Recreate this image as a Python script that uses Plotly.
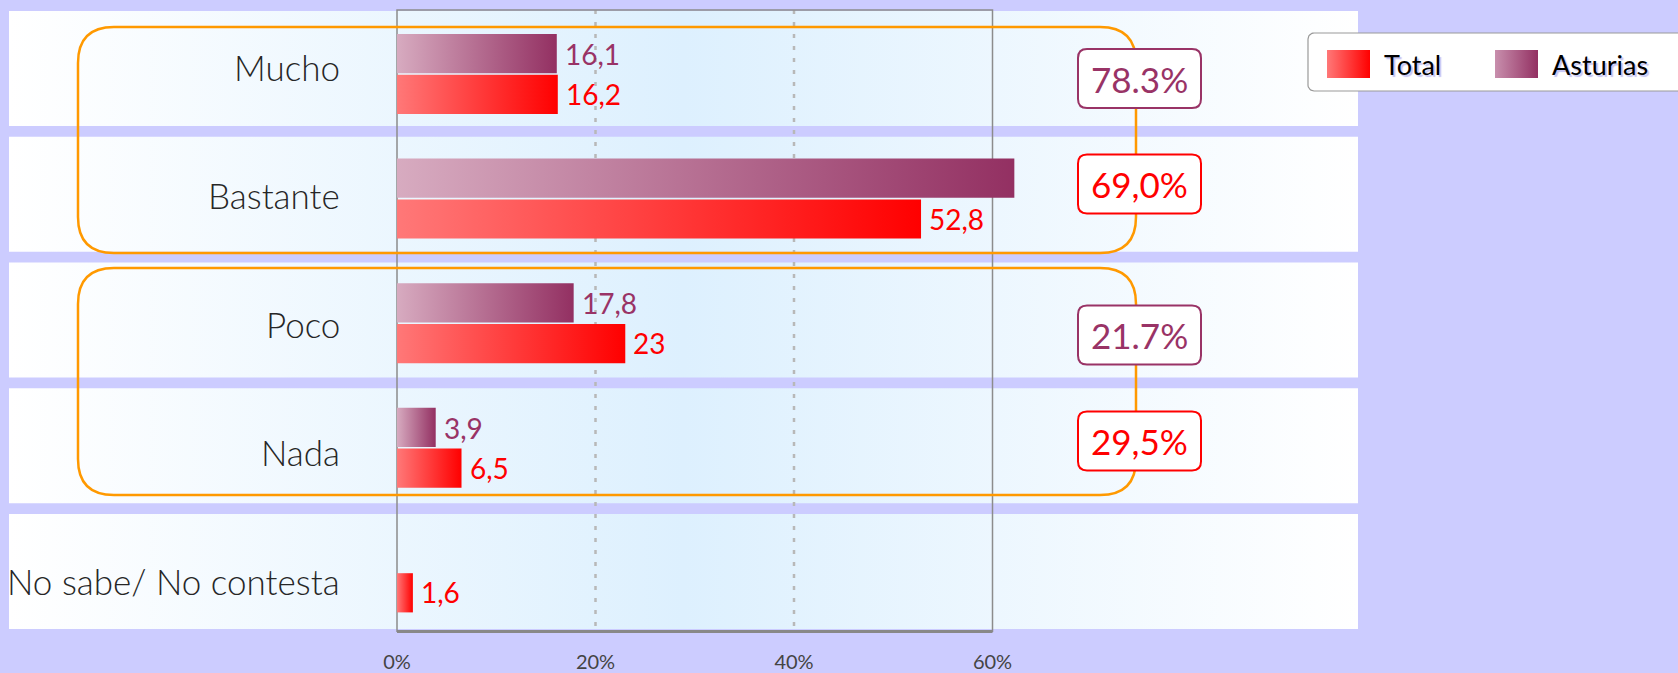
import plotly.graph_objects as go
import numpy as np

# ---------------- data ----------------
categories = ["Mucho", "Bastante", "Poco", "Nada", "No sabe/ No contesta"]
total = [16.2, 52.8, 23.0, 6.5, 1.6]
asturias = [16.1, 62.2, 17.8, 3.9, 0.0]
total_labels = ["16,2", "52,8", "23", "6,5", "1,6"]
asturias_labels = ["16,1", "62,2", "17,8", "3,9", ""]
x_tickvals = [0, 20, 40, 60]
x_ticktext = ["0%", "20%", "40%", "60%"]
groups = [["Mucho", "Bastante"], ["Poco", "Nada"]]
group_asturias = ["78.3%", "21.7%"]
group_total = ["69,0%", "29,5%"]
series_names = ["Total", "Asturias"]

# ---------------- styling / geometry ----------------
W, H = 1678, 673
PX0, KX = 397.0, 9.925      # pixel of x=0, pixels per %
PY0, KY = 74.0, 124.6       # pixel of first category centre, pixels per category
TOP, BOTTOM = 9, 634
XMAX_SHOW = 60

def X(px):
    return (px - PX0) / KX

def Y(py):
    return (py - PY0) / KY

FONT = "Lato, 'Open Sans', sans-serif"
RED_SCALE = [[0, "#ff7878"], [1, "#ff0000"]]
PUR_SCALE = [[0, "#d7abc0"], [1, "#933062"]]
LEG_PUR_SCALE = [[0, "#c88fad"], [1, "#933062"]]
PURPLE = "#993366"
RED = "#ff0000"
ORANGE = "#ff9900"

fig = go.Figure()


def rr_points(x0, y0, x1, y1, r, n=10):
    """rounded rectangle outline in pixel coords -> data coords"""
    pts = []
    corners = [(x1 - r, y0 + r, -90, 0), (x1 - r, y1 - r, 0, 90),
               (x0 + r, y1 - r, 90, 180), (x0 + r, y0 + r, 180, 270)]
    for cx, cy, a0, a1 in corners:
        for a in np.linspace(np.radians(a0), np.radians(a1), n):
            pts.append((cx + r * np.cos(a), cy + r * np.sin(a)))
    pts.append(pts[0])
    xs = [X(p[0]) for p in pts]
    ys = [Y(p[1]) for p in pts]
    return xs, ys


def rr_path(x0, y0, x1, y1, r):
    def P(px, py):
        return f"{X(px):.4f},{Y(py):.4f}"
    return (f"M{P(x0 + r, y0)} L{P(x1 - r, y0)} Q{P(x1, y0)} {P(x1, y0 + r)} "
            f"L{P(x1, y1 - r)} Q{P(x1, y1)} {P(x1 - r, y1)} L{P(x0 + r, y1)} "
            f"Q{P(x0, y1)} {P(x0, y1 - r)} L{P(x0, y0 + r)} Q{P(x0, y0)} {P(x0 + r, y0)} Z")


# ---- background bands (one per category) ----
band_x0, band_x1 = X(9), X(1358)
for i, cat in enumerate(categories):
    cy = 68.5 + 125.75 * i
    y0, y1 = Y(cy - 57.5), Y(cy + 57.5)
    fig.add_trace(go.Scatter(
        x=[band_x0, band_x1, band_x1, band_x0, band_x0],
        y=[y0, y0, y1, y1, y0], mode="lines", fill="toself",
        line=dict(width=0, color="rgba(0,0,0,0)"),
        fillgradient=dict(type="horizontal", start=band_x0, stop=band_x1,
                          colorscale=[[0, "#ffffff"], [0.5, "#ddf0fe"], [1, "#ffffff"]]),
        hoverinfo="skip", showlegend=False))

# ---- dotted grid lines ----
for v in x_tickvals[1:-1]:
    fig.add_trace(go.Scatter(x=[v, v], y=[Y(10), Y(632)], mode="lines",
                             line=dict(color="#b8b8b8", width=2.5, dash="4px,8px"),
                             hoverinfo="skip", showlegend=False))

# ---- plot frame ----
fig.add_trace(go.Scatter(x=[x_tickvals[0], x_tickvals[0], x_tickvals[-1], x_tickvals[-1]],
                         y=[Y(632), Y(10), Y(10), Y(632)], mode="lines",
                         line=dict(color="#8c8c8c", width=1.5),
                         hoverinfo="skip", showlegend=False))
fig.add_trace(go.Scatter(x=[x_tickvals[0], x_tickvals[-1]], y=[Y(631.5), Y(631.5)], mode="lines",
                         line=dict(color="#888888", width=3),
                         hoverinfo="skip", showlegend=False))

# ---- bars (gradient filled) ----
BW = 40.0 / KY
GAP = 0.8 / KY
for i, cat in enumerate(categories):
    for vals, sign, scale in ((asturias, -1, PUR_SCALE), (total, 1, RED_SCALE)):
        v = vals[i]
        if v <= 0:
            continue
        ya, yb = i + sign * GAP, i + sign * BW
        fig.add_trace(go.Scatter(
            x=[0, v, v, 0, 0], y=[ya, ya, yb, yb, ya], mode="lines", fill="toself",
            line=dict(width=0, color="rgba(0,0,0,0)"),
            fillgradient=dict(type="horizontal", start=0, stop=v, colorscale=scale),
            hoverinfo="skip", showlegend=False))

annotations = []
# value labels
for i, cat in enumerate(categories):
    for vals, labs, sign, col in ((asturias, asturias_labels, -1, PURPLE), (total, total_labels, 1, RED)):
        v = vals[i]
        if v <= 0 or v >= XMAX_SHOW:
            continue
        annotations.append(dict(x=v, y=i + sign * BW / 2, text=labs[i], showarrow=False,
                                xanchor="left", yanchor="middle", xshift=6,
                                font=dict(family=FONT, size=28, color=col)))

# category labels
for i, cat in enumerate(categories):
    annotations.append(dict(x=X(342), y=Y(67 + 128.4 * i), text=cat, showarrow=False,
                            xanchor="right", yanchor="middle",
                            font=dict(family=FONT, size=35, color="#262626", weight=300)))

shapes = []
# orange group outlines
grp_bounds = [(27, 253), (268, 495)]
for (t, b) in grp_bounds:
    shapes.append(dict(type="path", path=rr_path(78, t, 1136, b, 36), xref="x", yref="y",
                       line=dict(color=ORANGE, width=2.5), fillcolor="rgba(0,0,0,0)", layer="above"))

# percentage boxes
box_centers = [(78.5, group_asturias[0], PURPLE), (184, group_total[0], RED),
               (335, group_asturias[1], PURPLE), (441, group_total[1], RED)]
for cy, txt, col in box_centers:
    shapes.append(dict(type="path", path=rr_path(1078, cy - 29.5, 1201, cy + 29.5, 9),
                       xref="x", yref="y", line=dict(color=col, width=2),
                       fillcolor="white", layer="above"))
    annotations.append(dict(x=X(1139.5), y=Y(cy), text=txt, showarrow=False,
                            xanchor="center", yanchor="middle",
                            font=dict(family=FONT, size=35, color=col)))

# ---- custom legend ----
lx, ly = rr_points(1308, 33, 1720, 91, 6)
fig.add_trace(go.Scatter(x=lx, y=ly, mode="lines", fill="toself", fillcolor="white",
                         line=dict(color="#999999", width=1.2),
                         hoverinfo="skip", showlegend=False))
for (sx0, sx1, tx, scale, name) in ((1327, 1370, 1382, RED_SCALE, series_names[0]),
                                    (1495, 1538, 1550, LEG_PUR_SCALE, series_names[1])):
    a, b = X(sx0), X(sx1)
    fig.add_trace(go.Scatter(x=[a, b, b, a, a], y=[Y(50), Y(50), Y(78), Y(78), Y(50)],
                             mode="lines", fill="toself", line=dict(width=0, color="rgba(0,0,0,0)"),
                             fillgradient=dict(type="horizontal", start=a, stop=b, colorscale=scale),
                             hoverinfo="skip", showlegend=False))
    annotations.append(dict(x=X(tx), y=Y(64), text=name, showarrow=False,
                            xanchor="left", yanchor="middle",
                            font=dict(family=FONT, size=27, color="black",
                                      shadow="2px 2px 1px #c4c4f4")))

fig.update_layout(
    width=W, height=H,
    margin=dict(l=0, r=0, t=TOP, b=H - BOTTOM, autoexpand=False),
    paper_bgcolor="#ccccff", plot_bgcolor="rgba(0,0,0,0)",
    showlegend=False, hovermode=False,
    xaxis=dict(range=[X(0), X(W)], tickvals=x_tickvals, ticktext=x_ticktext,
               showgrid=False, zeroline=False, showline=False, ticks="",
               ticklabelstandoff=14,
               tickfont=dict(family=FONT, size=20, color="#444444"), fixedrange=True),
    yaxis=dict(range=[Y(BOTTOM), Y(TOP)], visible=False, fixedrange=True),
    shapes=shapes, annotations=annotations,
)

fig.write_html("out.html", config={"displayModeBar": False},
               post_script="document.body.style.margin='0px';document.body.style.padding='0px';"
                           "document.body.style.background='#ccccff';")
